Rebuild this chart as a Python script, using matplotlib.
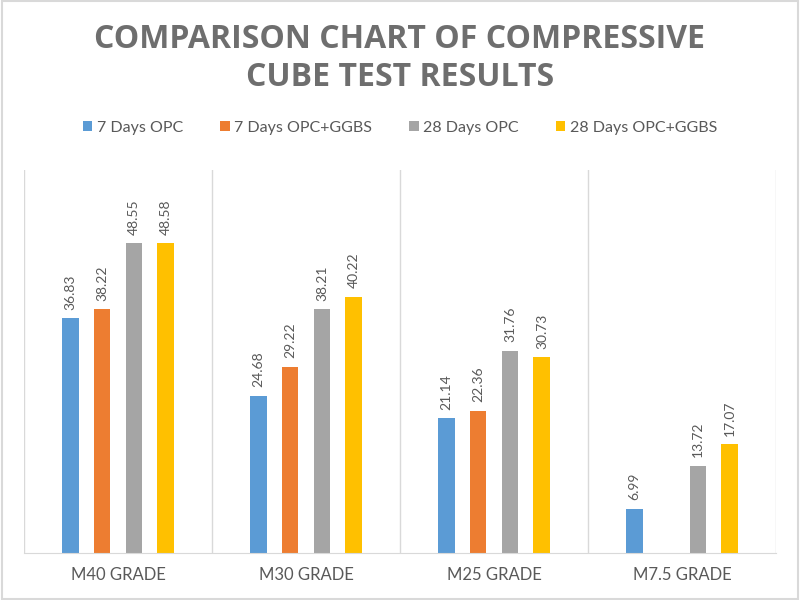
import numpy as np
import matplotlib.pyplot as plt
from matplotlib.patches import Rectangle

grades = ['M40 GRADE', 'M30 GRADE', 'M25 GRADE', 'M7.5 GRADE']
series_names = ['7 Days OPC', '7 Days OPC+GGBS', '28 Days OPC', '28 Days OPC+GGBS']
opc_7 = [36.83, 24.68, 21.14, 6.99]
ggbs_7 = [38.22, 29.22, 22.36, np.nan]
opc_28 = [48.55, 38.21, 31.76, 13.72]
ggbs_28 = [48.58, 40.22, 30.73, 17.07]
colors = ['#5B9BD5', '#ED7D31', '#A5A5A5', '#FFC000']

plt.rcParams['font.family'] = ['Lato', 'DejaVu Sans']
text_col = '#595959'
title_col = '#6E6E6E'
grid_col = '#D9D9D9'

fig = plt.figure(figsize=(8, 6), dpi=100)
ax = fig.add_axes([0.03, 0.078, 0.94, 0.638])

x = np.arange(len(grades))
width = 0.09
step = 0.17
all_series = [opc_7, ggbs_7, opc_28, ggbs_28]

for i, (vals, name, col) in enumerate(zip(all_series, series_names, colors)):
    pos = x + (i - 1.5) * step
    ax.bar(pos, vals, width, color=col, label=name, zorder=2)
    for p, v in zip(pos, vals):
        if np.isnan(v):
            continue
        ax.annotate(f'{v:.2f}', (p, v), xytext=(0, 6), textcoords='offset points',
                    rotation=90, ha='center', va='bottom', fontsize=10, color=text_col)

ax.set_xlim(-0.5, len(grades) - 0.5)
ax.set_ylim(0, 60)
ax.set_yticks([])
ax.set_xticks(x)
ax.set_xticklabels(grades, fontsize=12, color=text_col)
ax.tick_params(axis='x', length=0, pad=10)

for s in ['top', 'right', 'left']:
    ax.spines[s].set_visible(False)
ax.spines['bottom'].set_color(grid_col)

# vertical separators between grades
for b in np.arange(len(grades) + 1) - 0.5:
    ax.axvline(b, color=grid_col, lw=1, zorder=1)

fig.text(0.5, 0.903, 'COMPARISON CHART OF COMPRESSIVE\nCUBE TEST RESULTS', ha='center', va='center',
         fontsize=23, fontweight='bold', color=title_col, linespacing=1.2,
         family=['Open Sans', 'DejaVu Sans'])

fig.legend(loc='center', bbox_to_anchor=(0.5, 0.787), ncol=4, frameon=False,
           fontsize=11.5, labelcolor=text_col, handlelength=0.6, handleheight=0.6,
           handletextpad=0.3, columnspacing=2.3)

fig.patches.append(Rectangle((0.002, 0.002), 0.996, 0.996, transform=fig.transFigure,
                             fill=False, edgecolor=grid_col, lw=1.5))

fig.savefig('out.png', dpi=100)
